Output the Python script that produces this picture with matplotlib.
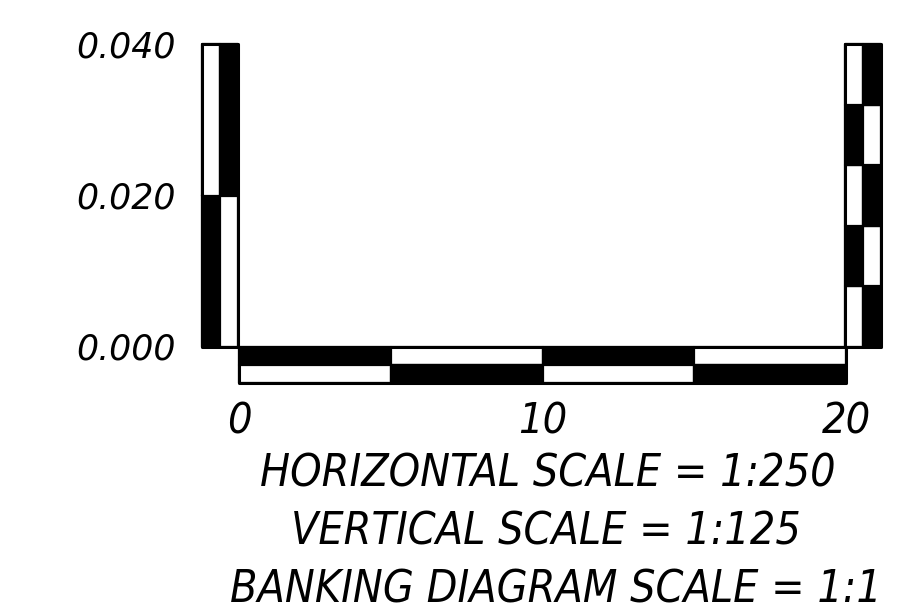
import matplotlib
matplotlib.use("Agg")
import matplotlib.pyplot as plt
from matplotlib.patches import Rectangle

# ---- data ----
h_edges = [0, 5, 10, 15, 20]                 # horizontal scale segments
h_labels = ["0", "10", "20"]
h_label_pos = [0, 10, 20]
v_left_edges = [0.0, 0.02, 0.04]             # left vertical scale
v_right_edges = [0.0, 0.008, 0.016, 0.024, 0.032, 0.04]  # right vertical scale
v_labels = ["0.000", "0.020", "0.040"]
v_label_pos = [0.0, 0.02, 0.04]
captions = ["HORIZONTAL SCALE = 1:250",
            "VERTICAL SCALE = 1:125",
            "BANKING DIAGRAM SCALE = 1:1"]

# ---- layout (pixels) ----
W, H = 898, 614
X0_PX, X20_PX = 239, 846
Y0_PX, Y40_PX = 347, 44          # measured from top
sx = (X20_PX - X0_PX) / (h_edges[-1] - h_edges[0])
sy = (Y0_PX - Y40_PX) / (v_left_edges[-1] - v_left_edges[0])

fig = plt.figure(figsize=(W / 100, H / 100), dpi=100)
ax = fig.add_axes([0, 0, 1, 1])
ax.set_xlim(-X0_PX / sx, (W - X0_PX) / sx)
ax.set_ylim(-(H - Y0_PX) / sy, Y0_PX / sy)
ax.axis("off")

def dx(p):
    return p / sx

def dy(p):
    return p / sy

LW = 1.6
BAR = 36  # total bar thickness in px
HALF = BAR / 2

def cell(x, y, w, h, black):
    ax.add_patch(Rectangle((x, y), w, h, facecolor="black" if black else "white",
                           edgecolor="black", linewidth=LW, joinstyle="round"))

# horizontal bar
for i in range(len(h_edges) - 1):
    x = h_edges[i]
    w = h_edges[i + 1] - h_edges[i]
    cell(x, -dy(HALF), w, dy(HALF), i % 2 == 0)           # top row
    cell(x, -dy(BAR), w, dy(HALF), i % 2 == 1)            # bottom row
ax.add_patch(Rectangle((h_edges[0], -dy(BAR)), h_edges[-1] - h_edges[0], dy(BAR),
                       fill=False, edgecolor="black", linewidth=2.2, joinstyle="round"))

# left vertical bar
for i in range(len(v_left_edges) - 1):
    y = v_left_edges[i]
    h = v_left_edges[i + 1] - v_left_edges[i]
    cell(-dx(BAR + 1), y, dx(HALF), h, i % 2 == 0)
    cell(-dx(HALF + 1), y, dx(HALF), h, i % 2 == 1)
ax.add_patch(Rectangle((-dx(BAR + 1), v_left_edges[0]), dx(BAR), v_left_edges[-1] - v_left_edges[0],
                       fill=False, edgecolor="black", linewidth=2.2, joinstyle="round"))

# right vertical bar
xr = h_edges[-1] - dx(1)
for i in range(len(v_right_edges) - 1):
    y = v_right_edges[i]
    h = v_right_edges[i + 1] - v_right_edges[i]
    cell(xr, y, dx(HALF), h, i % 2 == 1)
    cell(xr + dx(HALF), y, dx(HALF), h, i % 2 == 0)
ax.add_patch(Rectangle((xr, v_right_edges[0]), dx(BAR), v_right_edges[-1] - v_right_edges[0],
                       fill=False, edgecolor="black", linewidth=2.2, joinstyle="round"))

# labels
num_font = dict(family=["DejaVu Sans"], style="italic", color="black")
for lab, v in zip(v_labels, v_label_pos):
    ax.text(-dx(X0_PX - 176), v - dy(3), lab, ha="right", va="center", fontsize=25, **num_font)

cap_font = dict(family=["DejaVu Sans Condensed", "DejaVu Sans"], stretch="condensed",
                style="italic", color="black")
for lab, v in zip(h_labels, h_label_pos):
    ax.text(v, -dy(422 - Y0_PX), lab, ha="center", va="center", fontsize=31, **cap_font)

cap_y = [474, 532, 590]
cap_x = [548, 546, 556]
for txt, xpx, ypx in zip(captions, cap_x, cap_y):
    ax.text(dx(xpx - X0_PX), -dy(ypx - Y0_PX), txt, ha="center", va="center",
            fontsize=32, **cap_font)

fig.savefig("out.png", dpi=100, facecolor="white")
